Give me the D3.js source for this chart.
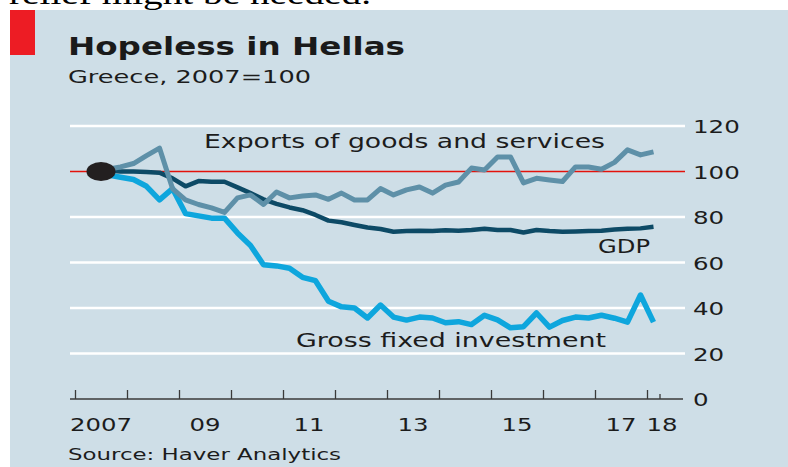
<!DOCTYPE html>
<html>
<head>
<meta charset="utf-8">
<script src="https://cdn.jsdelivr.net/npm/d3@7"></script>
<style>
  html, body { margin: 0; padding: 0; background: #ffffff; }
  svg { display: block; }
  text { font-family: "DejaVu Sans", sans-serif; fill: #1c1c1c; }
</style>
</head>
<body>
<div id="graph"></div>
<script>
// quarterly data, Greece, 2007=100
var quarters = [
    "2007Q2", "2007Q3", "2007Q4", "2008Q1", "2008Q2", "2008Q3", "2008Q4",
    "2009Q1", "2009Q2", "2009Q3", "2009Q4", "2010Q1", "2010Q2", "2010Q3", "2010Q4",
    "2011Q1", "2011Q2", "2011Q3", "2011Q4", "2012Q1", "2012Q2", "2012Q3", "2012Q4",
    "2013Q1", "2013Q2", "2013Q3", "2013Q4", "2014Q1", "2014Q2", "2014Q3", "2014Q4",
    "2015Q1", "2015Q2", "2015Q3", "2015Q4", "2016Q1", "2016Q2", "2016Q3", "2016Q4",
    "2017Q1", "2017Q2", "2017Q3", "2017Q4", "2018Q1"
];

var exportsSeries = [
    100, 101, 102, 103.5, 107, 110.3, 92.5, 87.5, 85.5, 84, 82, 88.4, 89.7, 85.5, 91,
    88.4, 89.2, 89.7, 87.8, 90.5, 87.5, 87.5, 92.5, 89.7, 91.9, 93.2, 90.5, 94, 95.4,
    101.5, 100.7, 106.4, 106.4, 95, 97, 96.3, 95.6, 102, 102, 101, 104, 109.5, 107.3, 108.6
];

var gdpSeries = [
    100, 100.5, 100, 100, 99.8, 99.5, 97, 93.5, 95.8, 95.5, 95.5, 93, 90.5, 87.8, 85.8,
    84.2, 83, 80.9, 78.4, 77.7, 76.5, 75.4, 74.7, 73.5, 73.8, 74, 73.8, 74.2, 74, 74.3,
    74.8, 74.3, 74.3, 73.2, 74.3, 73.8, 73.5, 73.6, 73.8, 74, 74.5, 74.8, 75, 75.7
];

var investmentSeries = [
    100, 98.5, 97.5, 96.5, 93.5, 87.5, 92.5, 81.5, 80.5, 79.5, 79.5, 73, 67.5, 59, 58.5,
    57.5, 53.5, 52, 43, 40.5, 40, 35.6, 41.3, 36, 34.7, 36, 35.6, 33.5, 34, 32.7, 36.8,
    34.8, 31.3, 31.8, 37.8, 31.6, 34.5, 36, 35.6, 36.8, 35.5, 33.8, 45.7, 33.8
];

var yTicks = [0, 20, 40, 60, 80, 100, 120];
var xTickYears = [2007, 2008, 2009, 2010, 2011, 2012, 2013, 2014, 2015, 2016, 2017, 2018];
var xLabelYears = [2007, 2009, 2011, 2013, 2015, 2017, 2018];
var xLabelText = ["2007", "09", "11", "13", "15", "17", "18"];

var width = 788;
var height = 467;

var svg = d3.select("#graph").append("svg")
    .attr("width", width)
    .attr("height", height);

function quarterPos(q) {
    var yr = +q.slice(0, 4);
    var n = +q.slice(5);
    return yr + (n - 0.5) / 4;
}

// stretched text, the source art is drawn wide
function addText(parent, x, y, str, size, len, weight) {
    return parent.append("text")
        .attr("x", x)
        .attr("y", y)
        .attr("font-size", size)
        .attr("font-weight", weight || "normal")
        .attr("textLength", len)
        .attr("lengthAdjust", "spacingAndGlyphs")
        .text(str);
}

// clipped line of article text above the chart
svg.append("text")
    .attr("x", 9)
    .attr("y", 4)
    .attr("font-size", 30)
    .attr("textLength", 362)
    .attr("lengthAdjust", "spacingAndGlyphs")
    .style("font-family", "'Liberation Serif', 'DejaVu Serif', serif")
    .style("fill", "#000")
    .text("relief might be needed.");

svg.append("rect")
    .attr("x", 10)
    .attr("y", 10)
    .attr("width", width - 10)
    .attr("height", height - 10)
    .attr("fill", "#cedee7");

svg.append("rect")
    .attr("x", 10)
    .attr("y", 10)
    .attr("width", 25)
    .attr("height", 45)
    .attr("fill", "#ed1c24");

addText(svg, 68, 55, "Hopeless in Hellas", 24, 337, "bold").style("fill", "#1a1a1a");
addText(svg, 68, 83, "Greece, 2007=100", 17, 243);

var x = d3.scaleLinear().domain([2007, 2018]).range([75, 647]);
var y = d3.scaleLinear().domain([0, 120]).range([399, 126]);

var plotLeft = 70;
var plotRight = 685;

// gridlines
svg.append("g").attr("class", "grid")
    .selectAll("line")
    .data(yTicks.filter(function(d) { return d > 0; }))
    .enter()
    .append("line")
    .attr("x1", plotLeft)
    .attr("x2", plotRight)
    .attr("y1", function(d) { return y(d); })
    .attr("y2", function(d) { return y(d); })
    .attr("stroke", function(d) { return d == 100 ? "#e3120b" : "#ffffff"; })
    .attr("stroke-width", function(d) { return d == 100 ? 1.6 : 2.4; });

// y labels on the right
svg.append("g").attr("class", "y-labels")
    .selectAll("text")
    .data(yTicks)
    .enter()
    .append("text")
    .attr("x", 693)
    .attr("y", function(d) { return y(d) + 7; })
    .attr("font-size", 18)
    .attr("textLength", function(d) { return String(d).length * 15.6; })
    .attr("lengthAdjust", "spacingAndGlyphs")
    .text(function(d) { return d; });

// x axis
var xAxis = d3.axisBottom(x)
    .tickValues(xTickYears)
    .tickSizeInner(-9)
    .tickSizeOuter(0)
    .tickFormat("");

var gX = svg.append("g")
    .attr("class", "axis axis--x")
    .attr("transform", "translate(0," + y(0) + ")")
    .call(xAxis);
gX.select(".domain").remove();
gX.selectAll(".tick line").attr("stroke", "#3a3a3a").attr("stroke-width", 1.3);

gX.append("line")
    .attr("x1", x(2018.25))
    .attr("x2", x(2018.25))
    .attr("y1", 0)
    .attr("y2", -5)
    .attr("stroke", "#3a3a3a")
    .attr("stroke-width", 1.3);

gX.append("line")
    .attr("x1", plotLeft)
    .attr("x2", 683)
    .attr("y1", 0)
    .attr("y2", 0)
    .attr("stroke", "#3a3a3a")
    .attr("stroke-width", 1.5);

svg.append("g").attr("class", "x-labels")
    .selectAll("text")
    .data(xLabelYears)
    .enter()
    .append("text")
    .attr("x", function(d) { return x(d == 2018 ? d + 0.29 : d + 0.5); })
    .attr("y", 431)
    .attr("text-anchor", "middle")
    .attr("font-size", 18)
    .attr("textLength", function(d, i) { return xLabelText[i].length * 15.5; })
    .attr("lengthAdjust", "spacingAndGlyphs")
    .text(function(d, i) { return xLabelText[i]; });

// lines
var line = d3.line()
    .x(function(d) { return x(d.pos); })
    .y(function(d) { return y(d.value); })
    .curve(d3.curveLinear);

function toPoints(values) {
    return values.map(function(v, i) {
        return {pos: quarterPos(quarters[i]), value: v};
    });
}

var series = [
    {key: "investment", values: investmentSeries, color: "#0ea6dd", width: 5.5},
    {key: "gdp", values: gdpSeries, color: "#0d4a66", width: 4.5},
    {key: "exports", values: exportsSeries, color: "#5e90a8", width: 5}
];

svg.append("g").attr("class", "lines")
    .selectAll("path")
    .data(series)
    .enter()
    .append("path")
    .attr("fill", "none")
    .attr("stroke", function(d) { return d.color; })
    .attr("stroke-width", function(d) { return d.width; })
    .attr("stroke-linejoin", "round")
    .attr("d", function(d) { return line(toPoints(d.values)); });

// 2007 marker
svg.append("ellipse")
    .attr("cx", x(2007.5))
    .attr("cy", y(100))
    .attr("rx", 14.5)
    .attr("ry", 9.5)
    .attr("fill", "#231f20");

addText(svg, 204, 148, "Exports of goods and services", 20, 401);
addText(svg, 598, 253, "GDP", 20, 52);
addText(svg, 296, 347, "Gross fixed investment", 20, 310);
addText(svg, 68, 460, "Source: Haver Analytics", 16, 273);
</script>
</body>
</html>
